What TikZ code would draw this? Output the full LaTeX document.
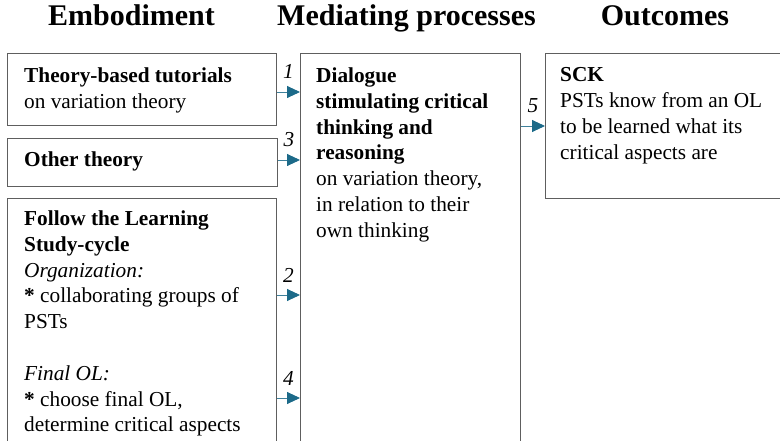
\documentclass[tikz,border=0pt]{standalone}
\usepackage{fontspec}
\setmainfont{Liberation Serif}
\usetikzlibrary{arrows.meta}
\definecolor{arrowblue}{HTML}{1C6A89}
\definecolor{boxgray}{HTML}{5E5E5E}
\begin{document}
\begin{tikzpicture}[x=1pt,y=-1pt,
  box/.style={draw=boxgray, line width=1.1pt, anchor=north west, inner sep=0pt},
  txt/.style={anchor=north west, inner sep=0pt, align=left,
    font=\fontsize{21.3}{25.8}\selectfont},
  head/.style={anchor=base, inner sep=0pt, font=\fontsize{30}{35}\selectfont\bfseries},
  link/.style={draw=arrowblue!85, line width=0.9pt,
    -{Triangle[length=13pt,width=12pt,color=arrowblue]}},
  num/.style={anchor=base, inner sep=0pt, font=\fontsize{21.3}{25}\selectfont\itshape}
]
\useasboundingbox (0,0) rectangle (780,441);
\clip (0,0) rectangle (780,441);

% column headings
\node[head] (hEmb) at (131.5,26) {Embodiment};
\node[head] (hMed) at (406.5,26) {Mediating processes};
\node[head] (hOut) at (665,26) {Outcomes};

% frames
\node[box, minimum width=269pt, minimum height=72pt] (tut) at (7,53) {};
\node[box, minimum width=270pt, minimum height=48pt] (oth) at (7,138) {};
\node[box, minimum width=269pt, minimum height=270pt] (cyc) at (7,198) {};
\node[box, minimum width=220pt, minimum height=420pt] (med) at (300,53) {};
\node[box, minimum width=260pt, minimum height=145pt] (sck) at (545,53) {};

% contents
\node[txt] (tutT) at (24,67.5) {\textbf{Theory-based tutorials}\\on variation theory};
\node[txt] (othT) at (24,151.5) {\textbf{Other theory}};
\node[txt] (cycT) at (24,210.5) {\textbf{Follow the Learning}\\\textbf{Study-cycle}\\
  \textit{Organization:}\\\textbf{*} collaborating groups of\\PSTs\\[25.8pt]
  \textit{Final OL:}\\\textbf{*} choose final OL,\\determine critical aspects};
\node[txt] (medT) at (316,67.5) {\textbf{Dialogue}\\\textbf{stimulating critical}\\
  \textbf{thinking and}\\\textbf{reasoning}\\on variation theory,\\
  in relation to their\\own thinking};
\node[txt] (sckT) at (560,67.5) {\textbf{SCK}\\PSTs know from an OL\\
  to be learned what its\\critical aspects are};

% numbered links
\draw[link] (tut.east |- 0,92) -- (med.west |- 0,92)
  node[num, midway, yshift=13pt] {1};
\draw[link] (oth.east |- 0,160) -- (med.west |- 0,160)
  node[num, midway, yshift=13pt] {3};
\draw[link] (cyc.east |- 0,295) -- (med.west |- 0,295)
  node[num, midway, yshift=13pt] {2};
\draw[link] (cyc.east |- 0,398) -- (med.west |- 0,398)
  node[num, midway, yshift=13pt] {4};
\draw[link] (med.east |- 0,126) -- (sck.west |- 0,126)
  node[num, midway, yshift=13pt] {5};
\end{tikzpicture}
\end{document}
